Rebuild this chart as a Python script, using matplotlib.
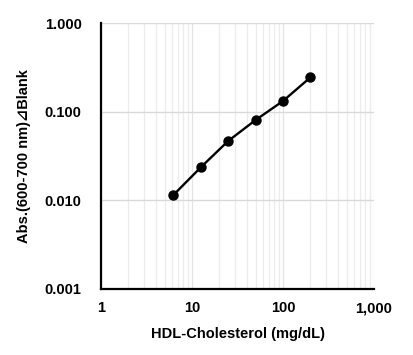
import numpy as np
import matplotlib
matplotlib.use('Agg')
import matplotlib.pyplot as plt
from matplotlib.ticker import FuncFormatter, LogLocator, NullFormatter

plt.rcParams['font.family'] = ['Liberation Sans', 'DejaVu Sans']
plt.rcParams['font.weight'] = 'bold'

# data
conc = [6.25, 12.5, 25, 50, 100, 200]  # HDL-Cholesterol (mg/dL)
absb = [0.0115, 0.0236, 0.0468, 0.0806, 0.132, 0.244]

fig = plt.figure(figsize=(4.13, 3.55), dpi=100)
ax = fig.add_axes([0.2446, 0.186, 0.661, 0.749])

ax.plot(conc, absb, color='black', lw=1.7, marker='o', ms=6.5, zorder=3)

ax.set_xscale('log')
ax.set_yscale('log')
ax.set_xlim(1, 1000)
ax.set_ylim(0.001, 1)

ax.xaxis.set_major_locator(LogLocator(base=10, numticks=10))
ax.xaxis.set_minor_locator(LogLocator(base=10, subs=np.arange(2, 10), numticks=10))
ax.yaxis.set_major_locator(LogLocator(base=10, numticks=10))
ax.yaxis.set_minor_locator(LogLocator(base=10, subs=np.arange(2, 10), numticks=10))
ax.xaxis.set_major_formatter(FuncFormatter(lambda v, p: f'{v:,.0f}'))
ax.yaxis.set_major_formatter(FuncFormatter(lambda v, p: f'{v:.3f}'))
ax.xaxis.set_minor_formatter(NullFormatter())
ax.yaxis.set_minor_formatter(NullFormatter())

ax.grid(True, which='major', axis='y', color='#d9d9d9', lw=1)
ax.grid(True, which='major', axis='x', color='#e3e3e3', lw=0.9)
ax.grid(True, which='minor', axis='x', color='#ececec', lw=0.9)
ax.set_axisbelow(True)

for s in ['top', 'right']:
    ax.spines[s].set_visible(False)
for s in ['left', 'bottom']:
    ax.spines[s].set_linewidth(1.6)

ax.tick_params(which='both', length=0, labelsize=10.5, pad=14)
ax.tick_params(axis='x', pad=9)
for lab in ax.get_xticklabels() + ax.get_yticklabels():
    lab.set_fontweight('bold')

ax.set_xlabel('HDL-Cholesterol (mg/dL)', fontsize=10.5, fontweight='bold', labelpad=8)
ax.set_ylabel('Abs.(600-700 nm)⊿Blank', fontsize=10.5, fontweight='bold', labelpad=10)

fig.savefig('out.png', dpi=100)
